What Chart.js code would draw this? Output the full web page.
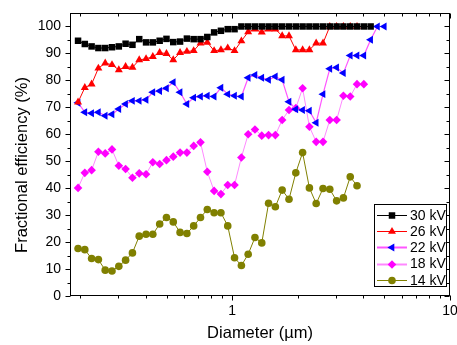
<!DOCTYPE html>
<html><head><meta charset="utf-8">
<script src="https://cdn.jsdelivr.net/npm/chart.js@4/dist/chart.umd.min.js"></script>
<style>html,body{margin:0;padding:0;background:#fff;}#wrap{width:457px;height:345px;}</style>
</head><body><div id="wrap"><canvas id="c" width="457" height="345"></canvas></div>
<script>
const diameters = [0.196, 0.2105, 0.2262, 0.243, 0.2612, 0.2806, 0.3016, 0.324, 0.3483, 0.3742,
  0.4022, 0.4321, 0.4645, 0.4991, 0.5363, 0.5763, 0.6194, 0.6655, 0.7152, 0.7685,
  0.826, 0.8876, 0.9539, 1.025, 1.102, 1.184, 1.272, 1.367, 1.469, 1.578,
  1.696, 1.823, 1.959, 2.105, 2.262, 2.43, 2.612, 2.806, 3.016, 3.24,
  3.483, 3.742, 4.022, 4.321, 4.645, 4.991];
const eff30 = [94.7, 93.5, 92.6, 92.0, 92.0, 92.3, 92.6, 93.6, 93.2, 95.3,
  94.1, 94.1, 94.7, 95.4, 94.2, 94.4, 95.5, 95.3, 95.3, 96.1,
  97.8, 98.4, 99.0, 99.0, 100, 100, 100, 100, 100, 100,
  100, 100, 100, 100, 100, 100, 100, 100, 100, 100,
  100, 100, 100, 100];
const eff26 = [71.9, 77.3, 78.6, 84.5, 86.4, 85.8, 83.9, 85.1, 84.8, 87.6,
  88.0, 88.8, 90.3, 89.9, 87.6, 90.3, 90.7, 91.0, 93.8, 94.1,
  91.0, 91.3, 92.0, 91.0, 94.6, 98.0, 99.0, 97.9, 99.0, 99.0,
  96.5, 96.5, 91.3, 91.3, 91.3, 93.8, 93.8, 100, 100, 100,
  100, 100];
const eff22 = [71.7, 68.2, 67.8, 68.2, 66.9, 67.4, 69.4, 71.2, 72.4, 72.4,
  72.8, 75.6, 76.1, 77.1, 79.3, 75.6, 71.2, 73.6, 74.0, 74.3,
  74.0, 77.3, 74.9, 74.3, 74.0, 81.0, 82.0, 81.0, 80.2, 81.4,
  80.2, 72.1, 69.3, 69.0, 68.7, 64.3, 74.9, 84.3, 84.8, 82.7,
  89.2, 89.2, 89.2, 95.1, 100, 100];
const eff18 = [40.1, 45.7, 46.7, 53.5, 52.9, 54.4, 48.3, 47.1, 43.9, 45.5,
  45.2, 49.6, 49.0, 50.4, 51.7, 53.2, 53.2, 55.7, 57.0, 46.1,
  39.0, 37.8, 41.2, 41.2, 51.4, 60.0, 61.8, 59.5, 59.7, 59.7,
  65.3, 69.0, 69.7, 77.1, 62.8, 57.2, 57.2, 65.3, 65.3, 74.3,
  74.0, 78.6, 78.6];
const eff14 = [17.6, 17.2, 13.9, 13.5, 9.6, 9.3, 11.0, 13.3, 16.0, 22.2,
  22.9, 22.9, 26.7, 29.1, 27.5, 23.6, 23.2, 26.0, 29.1, 32.1,
  30.9, 30.9, 26.0, 14.2, 11.3, 15.5, 21.7, 19.7, 34.4, 33.1,
  39.3, 35.9, 45.7, 53.2, 40.1, 34.3, 39.9, 39.6, 35.3, 36.4,
  44.2, 40.9];
const seriesLabels = ['30 kV', '26 kV', '22 kV', '18 kV', '14 kV'];
const xTitle = 'Diameter (µm)';
const yTitle = 'Fractional efficiency (%)';
const xMajorTicks = [1, 10];
const xMinorTicks = [0.2, 0.3, 0.4, 0.5, 0.6, 0.7, 0.8, 0.9, 2, 3, 4, 5, 6, 7, 8, 9];
const yMajorTicks = [0, 10, 20, 30, 40, 50, 60, 70, 80, 90, 100];
const yMinorTicks = [5, 15, 25, 35, 45, 55, 65, 75, 85, 95];

const FONT = "'Liberation Sans', Arial, sans-serif";
const styles = [
  {line: '#000000', fill: '#000000', shape: 'rect', r: 4.6, rot: 0, lw: 1},
  {line: '#ff0000', fill: '#ff0000', shape: 'triangle', r: 4.6, rot: 0, lw: 1},
  {line: '#ff55ff', fill: '#0000ff', shape: 'triangle', r: 4.6, rot: -90, lw: 1.2},
  {line: '#ff88ff', fill: '#ff00ff', shape: 'rectRot', r: 4.3, rot: 0, lw: 1},
  {line: '#808000', fill: '#808000', shape: 'circle', r: 3.8, rot: 0, lw: 1}
];
const seriesValues = [eff30, eff26, eff22, eff18, eff14];

function toPoints(vals) {
  return vals.map((v, i) => ({x: diameters[i], y: v}));
}

const datasets = seriesValues.map((vals, k) => ({
  label: seriesLabels[k],
  data: toPoints(vals),
  borderColor: styles[k].line,
  backgroundColor: styles[k].fill,
  borderWidth: styles[k].lw,
  pointStyle: styles[k].shape,
  pointRadius: styles[k].r,
  pointRotation: styles[k].rot,
  pointBackgroundColor: styles[k].fill,
  pointBorderColor: styles[k].fill,
  pointBorderWidth: 0,
  tension: 0,
  fill: false,
  order: k + 1
}));

function drawMarker(ctx, st, x, y) {
  ctx.save();
  ctx.fillStyle = st.fill;
  ctx.beginPath();
  const r = st.r;
  if (st.shape === 'rect') {
    const s = Math.SQRT1_2 * r;
    ctx.rect(x - s, y - s, 2 * s, 2 * s);
  } else if (st.shape === 'triangle') {
    const rad = st.rot * Math.PI / 180;
    for (let j = 0; j < 3; j++) {
      const a = rad - Math.PI / 2 + j * 2 * Math.PI / 3;
      const px = x + Math.cos(a) * r, py = y + Math.sin(a) * r;
      if (j === 0) ctx.moveTo(px, py); else ctx.lineTo(px, py);
    }
    ctx.closePath();
  } else if (st.shape === 'rectRot') {
    ctx.moveTo(x, y - r); ctx.lineTo(x + r, y); ctx.lineTo(x, y + r); ctx.lineTo(x - r, y); ctx.closePath();
  } else {
    ctx.arc(x, y, r, 0, Math.PI * 2);
  }
  ctx.fill();
  ctx.restore();
}

const framePlugin = {
  id: 'frameTicks',
  beforeDatasetsDraw(chart) {
    const ctx = chart.ctx;
    const a = chart.chartArea;
    const xs = chart.scales.x, ys = chart.scales.y;
    const L = Math.round(a.left) + 0.5, R = Math.round(a.right) - 0.5;
    const T = Math.round(a.top) + 0.5, B = Math.round(a.bottom) - 0.5;
    ctx.save();
    ctx.strokeStyle = '#000';
    ctx.lineWidth = 1;
    ctx.strokeRect(L, T, R - L, B - T);
    ctx.beginPath();
    const xt = (vals, len) => vals.forEach(v => {
      const p = Math.round(xs.getPixelForValue(v)) + 0.5;
      ctx.moveTo(p, B); ctx.lineTo(p, B + len);
      ctx.moveTo(p, T); ctx.lineTo(p, T + len);
    });
    const yt = (vals, len) => vals.forEach(v => {
      const p = Math.round(ys.getPixelForValue(v)) + 0.5;
      ctx.moveTo(L, p); ctx.lineTo(L - len, p);
      ctx.moveTo(R, p); ctx.lineTo(R - len, p);
    });
    xt(xMajorTicks, 5); xt(xMinorTicks, 3);
    yt(yMajorTicks, 5); yt(yMinorTicks, 3);
    ctx.stroke();
    // y-axis title
    ctx.save();
    ctx.translate(22, 165);
    ctx.rotate(-Math.PI / 2);
    ctx.font = '16.5px ' + FONT;
    ctx.fillStyle = '#000';
    ctx.textAlign = 'center';
    ctx.textBaseline = 'middle';
    ctx.fillText(yTitle, 0, 0);
    ctx.restore();
    ctx.restore();
  },
  afterDraw(chart) {
    const ctx = chart.ctx;
    const bx = 374.5, by = 204.5, bw = 72, bh = 82;
    ctx.save();
    ctx.fillStyle = '#fff';
    ctx.fillRect(bx, by, bw, bh);
    ctx.strokeStyle = '#000';
    ctx.lineWidth = 1;
    ctx.strokeRect(bx, by, bw, bh);
    ctx.font = '14px ' + FONT;
    ctx.textBaseline = 'middle';
    ctx.textAlign = 'left';
    seriesLabels.forEach((lab, k) => {
      const y = 215 + k * 16.2;
      const st = styles[k];
      ctx.strokeStyle = st.line;
      ctx.lineWidth = (k === 2 || k === 3) ? 2 : 1;
      ctx.beginPath();
      ctx.moveTo(377, Math.round(y) + 0.5); ctx.lineTo(407, Math.round(y) + 0.5);
      ctx.stroke();
      drawMarker(ctx, st, 392, Math.round(y) + 0.5);
      ctx.fillStyle = '#000';
      ctx.fillText(lab, 410, y + 1);
    });
    ctx.restore();
  }
};

new Chart(document.getElementById('c'), {
  type: 'line',
  data: {datasets},
  options: {
    responsive: false,
    animation: false,
    devicePixelRatio: 1,
    layout: {padding: {left: 0, right: 7, top: 13, bottom: 0}},
    plugins: {legend: {display: false}, tooltip: {enabled: false}},
    scales: {
      x: {
        type: 'logarithmic',
        position: 'bottom',
        min: 0.18,
        max: 10,
        grid: {display: false, drawTicks: false},
        border: {display: false},
        afterBuildTicks: s => { s.ticks = xMajorTicks.map(v => ({value: v})); },
        afterFit: s => { s.height = 49; s.paddingLeft = 0; s.paddingRight = 0; },
        ticks: {
          autoSkip: false, maxRotation: 0, padding: 7, color: '#000',
          font: {family: FONT, size: 14},
          callback: v => (xMajorTicks.includes(v) ? String(v) : '')
        },
        title: {display: true, text: xTitle, color: '#000',
          font: {family: FONT, size: 16.5}, padding: {top: 0, bottom: 2}}
      },
      y: {
        type: 'linear',
        min: 0,
        max: 105,
        grid: {display: false, drawTicks: false},
        border: {display: false},
        afterBuildTicks: s => { s.ticks = yMajorTicks.map(v => ({value: v})); },
        afterFit: s => { s.width = 70; s.paddingTop = 0; s.paddingBottom = 0; },
        ticks: {padding: 9, color: '#000', font: {family: FONT, size: 14}},
        title: {display: false, text: yTitle}
      }
    }
  },
  plugins: [framePlugin]
});
</script>
</body></html>
